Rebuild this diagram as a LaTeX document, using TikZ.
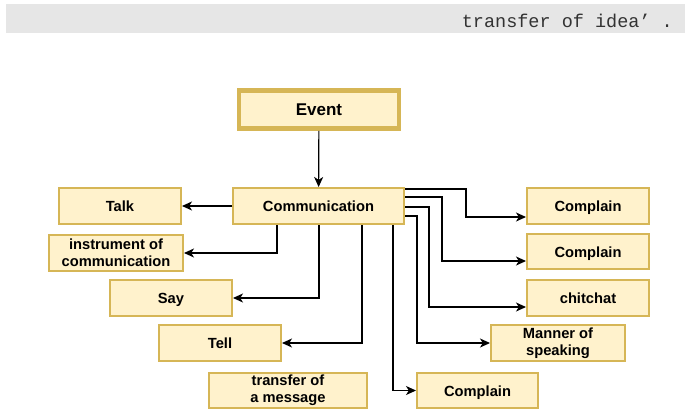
\documentclass[tikz,border=0pt]{standalone}
\usepackage{fontspec}
\setmainfont{Liberation Sans}
\newfontfamily\barmono{Liberation Mono}
\usetikzlibrary{arrows.meta,calc}
\definecolor{boxfill}{HTML}{FFF2CC}
\definecolor{boxline}{HTML}{D6B656}
\definecolor{barfill}{HTML}{E6E6E6}
\definecolor{bartext}{HTML}{333333}
\begin{document}
\begin{tikzpicture}[x=1pt,y=-1pt,
  box/.style={draw=boxline,fill=boxfill,line width=2pt,inner sep=0pt,align=center,
    minimum height=36pt,font=\fontsize{14.7}{17}\selectfont\bfseries},
  oneline/.style={text height=11pt,text depth=0pt},
  conn/.style={line width=1.2pt,draw=black,-{Stealth[length=10pt,width=9pt,inset=2.8pt]}}]
\useasboundingbox (0,0) rectangle (685,413);
\fill[barfill] (6,4) rectangle (685,33);
\node[anchor=base east,inner sep=0pt,text=bartext,font=\barmono\fontsize{18.5}{20}\selectfont] (bar) at (673,27) {transfer of idea’ .};

\node[box,oneline,line width=4.5pt,minimum width=160pt,minimum height=38pt,text height=12.5pt,font=\fontsize{17}{20}\selectfont\bfseries] (event) at (319,109.5) {Event};
\node[box,oneline,minimum width=171pt] (comm) at (318.5,206) {Communication};
\node[box,oneline,minimum width=122pt] (talk) at (120,206) {Talk};
\node[box,minimum width=134pt] (instr) at (116,253) {instrument of\\communication};
\node[box,oneline,minimum width=122pt] (say) at (171,298) {Say};
\node[box,oneline,minimum width=122pt] (tell) at (220,343) {Tell};
\node[box,minimum width=158pt,minimum height=35pt] (tmsg) at (288,390.5) {transfer of\\a message};
\node[box,oneline,minimum width=122pt] (c1) at (588,206) {Complain};
\node[box,oneline,minimum width=122pt,minimum height=35pt] (c2) at (588,251.5) {Complain};
\node[box,oneline,minimum width=122pt] (chit) at (588,298) {chitchat};
\node[box,minimum width=134pt] (manner) at (558,343) {Manner of\\speaking\vphantom{M}};
\node[box,oneline,minimum width=121pt,minimum height=35pt] (c3) at (477.5,390.5) {Complain};

\draw[conn] (event) -- (comm);
\draw[conn] (comm) -- (talk);
\draw[conn] (comm.south -| 277,0) |- (instr.east);
\draw[conn] (comm.south -| 319,0) |- (say.east);
\draw[conn] (comm.south -| 362,0) |- (tell.east);
\draw[conn] (comm.south -| 393,0) |- (c3.west);

\draw[conn] (comm.east |- 0,189) -| (466,217) -- (c1.west |- 0,217);
\draw[conn] (comm.east |- 0,197) -| (442,261) -- (c2.west |- 0,261);
\draw[conn] (comm.east |- 0,207) -| (429,307) -- (chit.west |- 0,307);
\draw[conn] (comm.east |- 0,216) -| (417,343) -- (manner.west);
\end{tikzpicture}
\end{document}
